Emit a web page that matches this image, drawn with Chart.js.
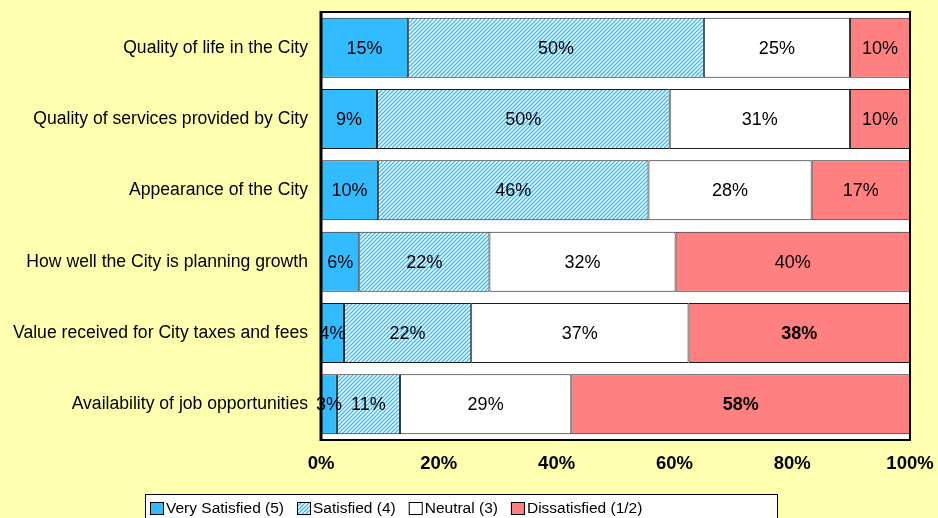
<!DOCTYPE html>
<html lang="en">
<head>
<meta charset="UTF-8">
<title>City satisfaction</title>
<script src="https://cdn.jsdelivr.net/npm/chart.js@4/dist/chart.umd.min.js"></script>
<style>
  html, body { margin: 0; padding: 0; background: #FFFFB0; }
  #wrap { width: 938px; height: 518px; position: relative; }
</style>
</head>
<body>
<div id="wrap"><canvas id="chart" width="938" height="518"></canvas></div>
<script>
// Данные графика
const categories = [
  'Quality of life in the City',
  'Quality of services provided by City',
  'Appearance of the City',
  'How well the City is planning growth',
  'Value received for City taxes and fees',
  'Availability of job opportunities'
];
const seriesNames = ['Very Satisfied (5)', 'Satisfied (4)', 'Neutral (3)', 'Dissatisfied (1/2)'];
const verySatisfied = [14.8, 9.5, 9.7, 6.5, 3.9, 2.7];
const satisfied = [50.2, 49.7, 45.9, 22.1, 21.6, 10.7];
const neutral = [24.8, 30.6, 27.7, 31.6, 36.9, 29.1];
const dissatisfied = [10.2, 10.2, 16.7, 39.8, 37.6, 57.5];
// подписи на барах (как напечатано на картинке)
const verySatisfiedLabels = ['15%', '9%', '10%', '6%', '4%', '3%'];
const satisfiedLabels = ['50%', '50%', '46%', '22%', '22%', '11%'];
const neutralLabels = ['25%', '31%', '28%', '32%', '37%', '29%'];
const dissatisfiedLabels = ['10%', '10%', '17%', '40%', '38%', '58%'];
const dissatisfiedBold = [false, false, false, false, true, true];
const xTicks = [0, 20, 40, 60, 80, 100];

const FONT = '"Liberation Sans", Arial, sans-serif';

// Штриховка для "Satisfied"
function makeHatch() {
  const c = document.createElement('canvas');
  c.width = 4; c.height = 4;
  const g = c.getContext('2d');
  g.fillStyle = '#ffffff';
  g.fillRect(0, 0, 4, 4);
  g.strokeStyle = '#33BBFF';
  g.lineWidth = 1.3;
  g.beginPath();
  g.moveTo(-1, 5); g.lineTo(5, -1);
  g.moveTo(-1, 1); g.lineTo(1, -1);
  g.moveTo(3, 5); g.lineTo(5, 3);
  g.stroke();
  return g.createPattern(c, 'repeat');
}
const hatch = makeHatch();

const colors = ['#33BBFF', hatch, '#FFFFFF', '#FF8080'];
const labelSets = [verySatisfiedLabels, satisfiedLabels, neutralLabels, dissatisfiedLabels];

// Белый фон и рамка области построения
const plotFrame = {
  id: 'plotFrame',
  beforeDatasetsDraw(chart) {
    const { ctx, chartArea: a } = chart;
    ctx.save();
    ctx.fillStyle = '#ffffff';
    ctx.fillRect(a.left, a.top, a.right - a.left, a.bottom - a.top);
    ctx.restore();
  },
  afterDatasetsDraw(chart) {
    const { ctx, chartArea: a } = chart;
    ctx.save();
    ctx.strokeStyle = '#000000';
    ctx.lineWidth = 2;
    ctx.strokeRect(a.left, a.top, a.right - a.left, a.bottom - a.top);
    ctx.lineWidth = 3;
    ctx.beginPath();
    ctx.moveTo(a.left, a.top - 1);
    ctx.lineTo(a.left, a.bottom + 1);
    ctx.stroke();
    ctx.restore();
  }
};

// Подписи значений внутри баров
const barLabels = {
  id: 'barLabels',
  afterDatasetsDraw(chart) {
    const ctx = chart.ctx;
    ctx.save();
    ctx.fillStyle = '#000000';
    ctx.textAlign = 'center';
    ctx.textBaseline = 'middle';
    chart.data.datasets.forEach((ds, di) => {
      const meta = chart.getDatasetMeta(di);
      meta.data.forEach((bar, i) => {
        const bold = di === 3 && dissatisfiedBold[i];
        ctx.font = (bold ? 'bold ' : '') + '18px ' + FONT;
        const x = (bar.x + bar.base) / 2;
        ctx.fillText(labelSets[di][i], x, bar.y + 1);
      });
    });
    ctx.restore();
  }
};

// Легенда в рамке внизу
const boxLegend = {
  id: 'boxLegend',
  afterDraw(chart) {
    const ctx = chart.ctx;
    const left = 145, top = 494, width = 632, height = 40;
    ctx.save();
    ctx.fillStyle = '#ffffff';
    ctx.fillRect(left, top, width, height);
    ctx.strokeStyle = '#000000';
    ctx.lineWidth = 1;
    ctx.strokeRect(left + 0.5, top + 0.5, width, height);
    ctx.font = '15.5px ' + FONT;
    ctx.textBaseline = 'middle';
    ctx.textAlign = 'left';
    let x = left + 5;
    const y = top + 14;
    seriesNames.forEach((name, i) => {
      ctx.fillStyle = colors[i];
      ctx.fillRect(x, y - 6, 14, 13);
      ctx.strokeStyle = '#000000';
      ctx.strokeRect(x + 0.5, y - 5.5, 13, 12);
      ctx.fillStyle = '#000000';
      ctx.fillText(name, x + 16, y + 1);
      x += 16 + ctx.measureText(name).width + 13;
    });
    ctx.restore();
  }
};

const datasets = [verySatisfied, satisfied, neutral, dissatisfied].map((vals, i) => ({
  label: seriesNames[i],
  data: vals,
  backgroundColor: colors[i],
  borderColor: '#1a1a1a',
  borderWidth: 1,
  borderSkipped: false,
  barPercentage: 0.84,
  categoryPercentage: 1
}));

new Chart(document.getElementById('chart'), {
  type: 'bar',
  data: { labels: categories, datasets: datasets },
  options: {
    indexAxis: 'y',
    responsive: false,
    animation: false,
    layout: { padding: { left: 0, right: 28, top: 12, bottom: 38 } },
    plugins: {
      legend: { display: false },
      tooltip: { enabled: false }
    },
    scales: {
      x: {
        stacked: true,
        min: 0,
        max: 100,
        afterBuildTicks(scale) {
          scale.ticks = xTicks.map(v => ({ value: v }));
        },
        afterFit(scale) {
          scale.height = 40;
          scale.paddingLeft = 0;
          scale.paddingRight = 0;
        },
        grid: { display: false, drawTicks: false },
        border: { display: false },
        ticks: {
          padding: 13,
          color: '#000000',
          font: { family: FONT, size: 18.5, weight: 'bold' },
          callback: v => v + '%',
          maxRotation: 0
        }
      },
      y: {
        stacked: true,
        afterFit(scale) {
          scale.width = 321;
          scale.paddingTop = 0;
          scale.paddingBottom = 0;
        },
        grid: { display: false, drawTicks: false },
        border: { display: false },
        ticks: {
          padding: 13,
          color: '#000000',
          font: { family: FONT, size: 17.6 }
        }
      }
    }
  },
  plugins: [plotFrame, barLabels, boxLegend]
});
</script>
</body>
</html>
